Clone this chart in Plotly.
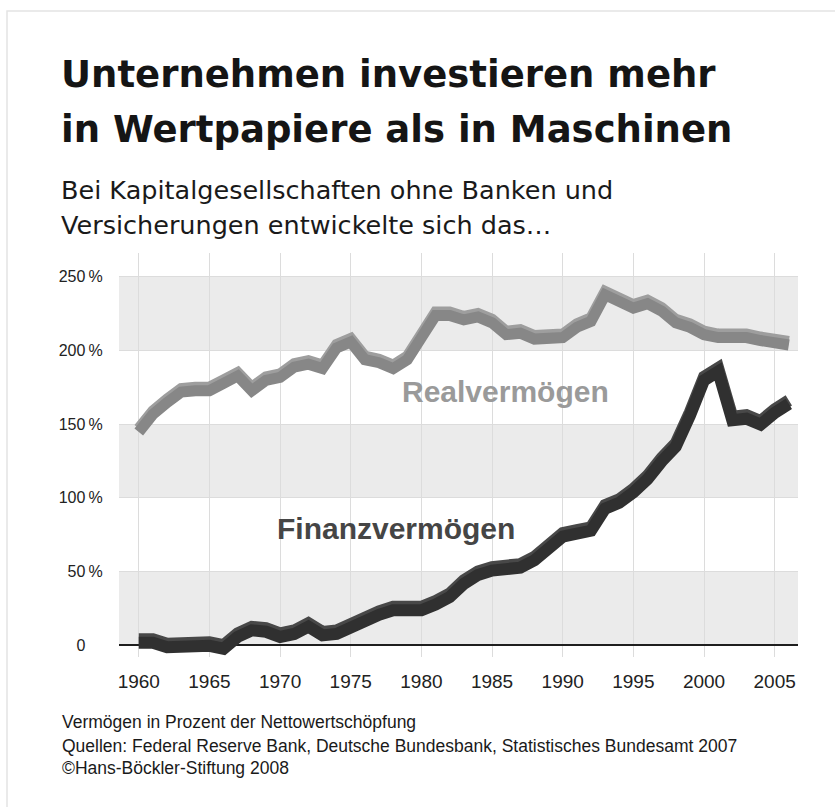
import plotly.graph_objects as go

# ---------------- data ----------------
years = list(range(1960, 2007))
realvermoegen = [147, 159, 167, 174, 175, 175, 180, 185, 175, 182,
                 184, 191, 193, 190, 204, 208, 196, 194, 190, 196,
                 211, 226, 226, 223, 225, 221, 213, 214, 210, 211,
                 211, 218, 222, 240, 235, 231, 234, 229, 221, 218,
                 213, 211, 211, 211, 209, 208, 206]
finanzvermoegen = [4, 4, 1, 2, 2.5, 2, 0, 8, 12.5, 11.5,
                   8, 10, 15, 9, 10, 15, 19, 23, 26, 26,
                   26, 30, 35, 44, 50, 53, 54, 55, 60, 68,
                   76, 78, 80, 95, 99, 106, 115, 127, 137, 158,
                   182, 188, 155, 156, 152, 160, 166]
x_ticks = [1960, 1965, 1970, 1975, 1980, 1985, 1990, 1995, 2000, 2005]
y_ticks = [0, 50, 100, 150, 200, 250]
y_ticklabels = ["0<span style='color:rgba(0,0,0,0)'>\u2009%</span>",
                "50\u2009%", "100\u2009%", "150\u2009%", "200\u2009%", "250\u2009%"]
bands = [(0, 50), (100, 150), (200, 250)]

title_lines = ["Unternehmen investieren mehr", "in Wertpapiere als in Maschinen"]
subtitle_lines = ["Bei Kapitalgesellschaften ohne Banken und",
                  "Versicherungen entwickelte sich das\u2026"]
footer_lines = ["Vermögen in Prozent der Nettowertschöpfung",
                "Quellen: Federal Reserve Bank, Deutsche Bundesbank, Statistisches Bundesamt 2007",
                "\u00a9Hans-Böckler-Stiftung 2008"]

# ---------------- layout geometry ----------------
W, H = 835, 807
L, R, T, B = 119, 798, 253, 657
YMIN, YMAX = -8, 266
XMIN, XMAX = 1958.6, 2006.65
px_per_unit = (B - T) / (YMAX - YMIN)
shadow_shift = 3.5 / px_per_unit


def px(xp):
    return (xp - L) / (R - L)


def py(yp):
    return (B - yp) / (B - T)


fig = go.Figure()

# shadow traces (overlay axis shifted a few pixels down)
fig.add_trace(go.Scatter(x=years, y=realvermoegen, yaxis="y2", mode="lines",
                         line=dict(color="#878787", width=11), hoverinfo="skip",
                         showlegend=False))
fig.add_trace(go.Scatter(x=years, y=finanzvermoegen, yaxis="y2", mode="lines",
                         line=dict(color="#303030", width=12), hoverinfo="skip",
                         showlegend=False))
# main traces
fig.add_trace(go.Scatter(x=years, y=realvermoegen, mode="lines", name="Realvermögen",
                         line=dict(color="#9e9e9e", width=11), showlegend=False))
fig.add_trace(go.Scatter(x=years, y=finanzvermoegen, mode="lines", name="Finanzvermögen",
                         line=dict(color="#484848", width=12), showlegend=False))

shapes = []
for y0, y1 in bands:
    shapes.append(dict(type="rect", xref="paper", yref="y", x0=0, x1=1, y0=y0, y1=y1,
                       fillcolor="#ebebeb", line=dict(width=0), layer="below"))
# outer frame
shapes.append(dict(type="rect", xref="paper", yref="paper",
                   x0=px(7), x1=px(845), y0=py(11), y1=py(820),
                   line=dict(color="#e4e4e4", width=1.5), fillcolor="rgba(0,0,0,0)"))

annotations = []
title_font = dict(family="DejaVu Sans", size=37, color="#151515", weight="bold")
for line, ymid in zip(title_lines, [74.5, 129]):
    annotations.append(dict(text=line, xref="paper", yref="paper", x=px(59), y=py(ymid),
                            xanchor="left", yanchor="middle", showarrow=False,
                            font=title_font))
sub_font = dict(family="DejaVu Sans", size=25.5, color="#1a1a1a")
for line, ymid in zip(subtitle_lines, [189.5, 224.5]):
    annotations.append(dict(text=line, xref="paper", yref="paper", x=px(59), y=py(ymid),
                            xanchor="left", yanchor="middle", showarrow=False,
                            font=sub_font))
foot_font = dict(family="Liberation Sans", size=17.5, color="#1a1a1a")
for line, ymid in zip(footer_lines, [722, 746, 768]):
    annotations.append(dict(text=line, xref="paper", yref="paper", x=px(60), y=py(ymid),
                            xanchor="left", yanchor="middle", showarrow=False,
                            font=foot_font))
# series labels
annotations.append(dict(text="Realvermögen", xref="paper", yref="paper",
                        x=px(505), y=py(391), xanchor="center", yanchor="middle",
                        showarrow=False,
                        font=dict(family="Liberation Sans", size=30, color="#9a9a9a",
                                  weight="bold")))
annotations.append(dict(text="Finanzvermögen", xref="paper", yref="paper",
                        x=px(396), y=py(528), xanchor="center", yanchor="middle",
                        showarrow=False,
                        font=dict(family="Liberation Sans", size=30, color="#454545",
                                  weight="bold")))

fig.update_layout(
    width=W, height=H,
    margin=dict(l=L, r=W - R, t=T, b=H - B, pad=0),
    paper_bgcolor="white", plot_bgcolor="white",
    shapes=shapes, annotations=annotations,
    xaxis=dict(range=[XMIN, XMAX], tickvals=x_ticks, showgrid=True,
               gridcolor="#dcdcdc", gridwidth=1, zeroline=False, showline=False,
               ticks="outside", ticklen=7, tickcolor="rgba(0,0,0,0)",
               tickfont=dict(family="Liberation Sans", size=19, color="#222222"),
               fixedrange=True),
    yaxis=dict(range=[YMIN, YMAX], tickvals=y_ticks, ticktext=y_ticklabels,
               showgrid=True, gridcolor="#dcdcdc", gridwidth=1,
               zeroline=True, zerolinecolor="#1e1e1e", zerolinewidth=1.5,
               showline=False, ticks="outside", ticklen=12,
               tickcolor="rgba(0,0,0,0)",
               tickfont=dict(family="Liberation Sans", size=16, color="#222222"),
               fixedrange=True),
    yaxis2=dict(range=[YMIN + shadow_shift, YMAX + shadow_shift], overlaying="y",
                visible=False, fixedrange=True),
    showlegend=False,
)

fig.write_html("out.html")
